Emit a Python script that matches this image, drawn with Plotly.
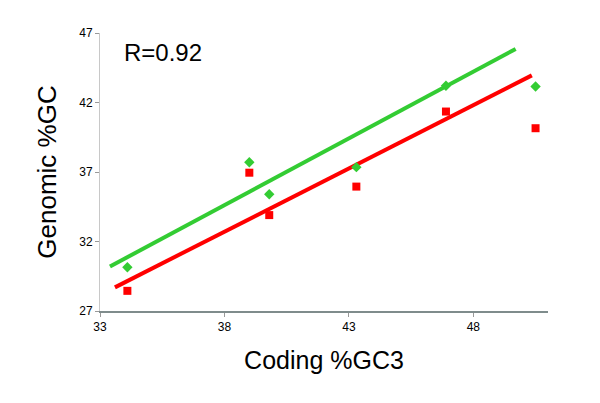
import plotly.graph_objects as go

# Data
coding_gc3 = [34.1, 39.0, 39.8, 43.3, 46.9, 50.5]
genomic_green = [30.15, 37.7, 35.4, 37.35, 43.2, 43.15]
genomic_red = [28.45, 36.95, 33.9, 35.95, 41.35, 40.15]

green_fit_x = [33.4, 49.7]
green_fit_y = [30.2, 45.85]
red_fit_x = [33.6, 50.35]
red_fit_y = [28.7, 43.95]

x_ticks = [33, 38, 43, 48]
y_ticks = [27, 32, 37, 42, 47]

GREEN = "#33cc33"
RED = "#ff0000"

fig = go.Figure()
fig.add_trace(go.Scatter(x=green_fit_x, y=green_fit_y, mode="lines",
                         line=dict(color=GREEN, width=4), showlegend=False))
fig.add_trace(go.Scatter(x=red_fit_x, y=red_fit_y, mode="lines",
                         line=dict(color=RED, width=4), showlegend=False))
fig.add_trace(go.Scatter(x=coding_gc3, y=genomic_green, mode="markers",
                         marker=dict(symbol="diamond", size=8, color=GREEN),
                         showlegend=False))
fig.add_trace(go.Scatter(x=coding_gc3, y=genomic_red, mode="markers",
                         marker=dict(symbol="square", size=8, color=RED),
                         showlegend=False))

fig.add_annotation(x=0.05, y=0.93, xref="paper", yref="paper",
                   text="R=0.92", showarrow=False, xanchor="left", yanchor="middle",
                   font=dict(size=24, color="black", family="Liberation Sans, Arial"))

fig.update_layout(
    width=600, height=403,
    margin=dict(l=92, r=60, t=25, b=100),
    paper_bgcolor="white", plot_bgcolor="white",
    font=dict(family="Liberation Sans, Arial", color="black"),
    xaxis=dict(range=[33, 51], tickvals=x_ticks, showgrid=False, zeroline=False,
               showline=True, linecolor="#7f8c8c", linewidth=1.5,
               ticks="outside", ticklen=4, tickcolor="#999999",
               tickfont=dict(size=12),
               title=dict(text="Coding %GC3", font=dict(size=25), standoff=18)),
    yaxis=dict(range=[27, 47], tickvals=y_ticks, showgrid=False, zeroline=False,
               showline=True, linecolor="#c8c8c8", linewidth=1,
               ticks="outside", ticklen=4, tickcolor="#999999",
               tickfont=dict(size=12),
               title=dict(text="Genomic %GC", font=dict(size=26), standoff=15)),
)

fig.write_html("out.html")
